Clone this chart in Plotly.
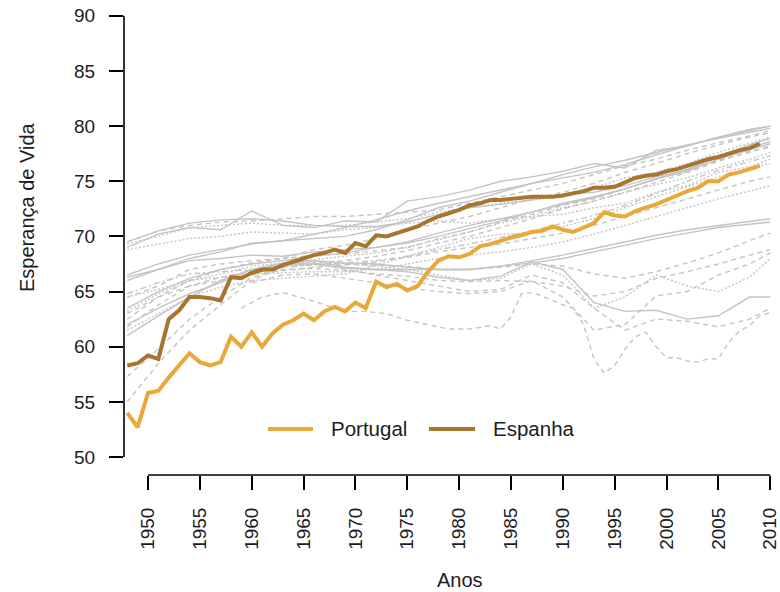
import plotly.graph_objects as go

# Yearly life expectancy, Portugal and Spain
YEARS = list(range(1948, 2010))
PORTUGAL = [54.0, 52.7, 55.8, 56.0, 57.2, 58.3, 59.4, 58.6, 58.3, 58.6,
            60.9, 60.0, 61.3, 60.0, 61.2, 62.0, 62.4, 63.0, 62.4, 63.2,
            63.6, 63.2, 64.0, 63.5, 65.9, 65.4, 65.7, 65.1, 65.5, 66.8,
            67.8, 68.2, 68.1, 68.4, 69.1, 69.3, 69.6, 69.9, 70.1, 70.4,
            70.5, 70.9, 70.6, 70.4, 70.8, 71.2, 72.2, 71.9, 71.8, 72.3,
            72.6, 72.9, 73.3, 73.7, 74.1, 74.4, 75.0, 75.0, 75.6, 75.8,
            76.1, 76.4]
ESPANHA = [58.3, 58.5, 59.2, 58.9, 62.5, 63.3, 64.5, 64.5, 64.4, 64.2,
           66.3, 66.2, 66.7, 67.0, 67.0, 67.4, 67.7, 68.0, 68.3, 68.5,
           68.8, 68.5, 69.4, 69.1, 70.1, 70.0, 70.3, 70.6, 70.9, 71.4,
           71.8, 72.1, 72.4, 72.8, 73.0, 73.3, 73.3, 73.4, 73.5, 73.6,
           73.6, 73.6, 73.7, 73.9, 74.1, 74.4, 74.4, 74.5, 74.9, 75.3,
           75.5, 75.6, 75.9, 76.1, 76.4, 76.7, 77.0, 77.2, 77.5, 77.8,
           78.0, 78.4]

# Other countries, sampled every three years
YEARS_G = [1948, 1951, 1954, 1957, 1960, 1963, 1966, 1969, 1972, 1975, 1978,
           1981, 1984, 1987, 1990, 1993, 1996, 1999, 2002, 2005, 2008, 2010]
N = None
OTHERS = {
    "T1": ([69.3, 70.0, 70.8, 71.0, 71.2, 71.0, 71.0, 71.0, 71.3, 71.6, 72.2,
            72.6, 73.0, 73.3, 73.6, 74.4, 75.3, 75.8, 76.6, 77.6, 78.4, 79.0], "dot"),
    "T2": ([69.5, 70.5, 71.0, 71.3, 71.4, 71.6, 71.8, 71.8, 72.0, 72.2, 72.4,
            73.0, 73.6, 74.2, 74.8, 75.6, 76.4, 77.0, 77.8, 78.5, 79.1, 79.6], "dash"),
    "T3": ([69.5, 70.5, 71.2, 71.5, 71.6, 71.4, 71.0, 70.9, 70.9, 71.3, 72.0,
            72.6, 72.9, 73.3, 73.8, 74.0, 74.6, 75.4, 76.0, 77.2, 78.3, 78.9], "solid"),
    "T4": ([68.8, 69.3, 69.8, 70.0, 70.4, 70.3, 70.2, 70.6, 70.8, 71.2, 71.4,
            71.2, 71.6, 71.8, 72.0, 72.6, 73.0, 74.0, 74.6, 75.8, 76.3, 77.0], "dot"),
    "T5": ([69.0, 70.2, 70.8, 70.6, 72.3, 71.0, 70.8, 71.4, 71.3, 73.2, 73.6,
            74.2, 75.0, 75.4, 75.9, 76.6, 76.2, 77.8, 78.2, 79.0, 79.6, 80.0], "solid"),
    "U1": ([64.5, 65.2, 66.0, 66.3, 66.6, 66.7, 66.8, 66.8, 67.0, 67.5, 68.0,
            68.3, 68.6, 69.0, 69.5, 70.2, 71.0, 71.8, 72.6, 73.4, 74.1, 74.6], "dot"),
    "U2": ([63.0, 64.5, 65.5, 66.0, 66.6, 66.9, 67.2, 67.4, 67.7, 68.1, 68.6,
            69.0, 69.3, 69.8, 70.3, 71.0, 71.8, 72.6, 73.4, 74.2, 75.0, 75.4], "dash"),
    "M1": ([63.5, 65.0, 66.2, 67.0, 67.5, 67.8, 68.2, 68.5, 69.0, 69.4, 70.0,
            70.7, 71.4, 72.2, 73.0, 73.6, 74.3, 75.2, 75.9, 77.0, 77.8, 78.4], "solid"),
    "M2": ([62.5, 64.5, 66.0, 67.0, 67.6, 68.0, 68.8, 69.2, 69.8, 70.6, 71.2,
            71.8, 72.6, 73.4, 74.0, 74.8, 75.8, 76.6, 77.5, 78.3, 79.0, 79.4], "dash"),
    "M3": ([66.3, 67.0, 67.8, 68.0, 68.3, 68.2, 68.6, 68.8, 69.0, 69.5, 70.3,
            71.0, 71.6, 72.2, 72.9, 73.5, 74.3, 75.2, 76.1, 77.2, 78.0, 78.6], "solid"),
    "M4": ([64.5, 65.5, 67.0, 67.5, 67.8, 68.0, 68.3, 68.4, 68.7, 69.0, 69.8,
            70.4, 71.3, 72.0, 72.8, 73.4, 74.3, 75.2, 76.0, 76.9, 77.6, 78.2], "dash"),
    "M5": ([63.2, 64.8, 66.0, 66.6, 67.3, 67.6, 67.9, 68.2, 68.5, 69.0, 69.7,
            70.4, 71.2, 71.8, 72.6, 73.2, 74.0, 74.7, 75.3, 76.2, 77.0, 77.6], "dot"),
    "M6": ([66.0, 67.0, 68.0, 68.6, 69.4, 69.6, 70.2, 70.8, 71.5, 72.3, 73.0,
            73.6, 74.2, 74.8, 75.3, 75.8, 76.5, 77.4, 78.2, 79.0, 79.7, 80.0], "solid"),
    "M7": ([61.8, 63.8, 65.5, 66.3, 66.8, 67.4, 67.6, 67.8, 68.2, 68.7, 69.4,
            70.0, 70.8, 71.6, 72.5, 73.2, 74.0, 74.9, 75.8, 76.8, 77.7, 78.1], "dash"),
    "M8": ([61.5, 63.0, 64.5, 65.4, 66.0, 66.2, 66.4, 66.6, 67.4, 68.2, 69.0,
            69.8, 70.2, 70.3, 70.9, 71.6, 72.6, 73.6, 74.5, 75.4, 76.2, 76.6], "dot"),
    "M9": ([64.8, 65.8, 66.6, 66.8, 67.0, 67.2, 67.4, 67.6, 67.8, 68.2, 68.8,
            69.3, 69.9, 70.5, 71.2, 71.9, 72.8, 73.9, 75.0, 76.0, 76.8, 77.3], "dashdot"),
    "M10": ([66.5, 67.5, 68.3, 68.8, 69.3, 69.6, 69.8, 70.0, 70.6, 71.5, 72.6,
             73.2, 74.0, 74.8, 75.6, 76.3, 76.9, 77.6, 78.3, 78.9, 79.4, 79.8], "solid"),
    "L1": ([55.0, 58.5, 61.5, 63.8, 66.0, 67.2, 67.5, 67.5, 67.4, 67.3, 67.0,
            67.0, 67.2, 67.5, 67.3, 66.6, 66.2, 66.8, 67.6, 68.5, 69.6, 70.3], "dash"),
    "L2": ([57.3, 59.8, 62.5, 64.5, 66.3, 67.0, 67.1, 66.9, 66.6, 66.4, 66.0,
            65.9, 66.0, 65.9, 65.5, 64.6, 65.0, 66.2, 66.8, 67.5, 68.3, 68.8], "dash"),
    "L3": ([62.0, 63.5, 64.8, 65.8, 67.0, 67.4, 67.5, 67.1, 67.0, 67.0, 67.0,
            67.0, 67.3, 67.6, 68.0, 68.6, 69.2, 69.8, 70.3, 70.8, 71.1, 71.3], "solid"),
    "L4": ([61.0, 62.8, 64.5, 66.0, 67.0, 67.6, 67.8, 67.6, 67.5, 67.2, 67.0,
            67.0, 67.3, 67.8, 68.3, 68.9, 69.5, 70.1, 70.6, 71.0, 71.4, 71.6], "solid"),
    "E1": ([N, N, N, N, 66.5, 67.5, 67.8, 67.2, 67.0, 66.8, 66.3,
            66.0, 66.4, 67.7, 67.0, 64.0, 63.2, 63.3, 62.5, 62.8, 64.5, 64.5], "solid"),
    "E2": ([N, N, N, N, 67.0, 67.5, 67.6, 67.0, 66.5, 66.0, 65.5,
            65.0, 65.2, 66.5, 65.8, 63.5, 61.5, 62.5, 62.3, 61.8, 62.5, 63.5], "dash"),
    "E3": ([N, N, N, N, 65.8, 66.5, 66.6, 66.2, 65.8, 65.3, 65.0,
            64.8, 65.0, 66.0, 64.5, 61.5, 62.0, 64.6, 65.0, 66.5, 67.5, 68.5], "dash"),
    "E4": ([N, N, N, N, 66.5, 67.5, 67.8, 67.5, 67.3, 67.0, 66.5,
            66.0, 66.2, 67.5, 66.5, 63.5, 64.5, 66.5, 65.5, 65.0, 66.3, 68.0], "dot"),
}

# Russia, from 1959 (mortality crisis of the 1990s)
YEARS_RU = [1959, 1961, 1963, 1965, 1967, 1969, 1971, 1973, 1975, 1977, 1979,
            1981, 1983, 1984, 1985, 1986, 1987, 1988, 1989, 1990, 1991, 1992,
            1993, 1994, 1995, 1996, 1997, 1998, 1999, 2000, 2001, 2002, 2003,
            2004, 2005, 2006, 2007, 2008, 2009, 2010]
RUSSIA = [63.5, 64.5, 64.9, 64.4, 63.8, 63.2, 63.2, 63.0, 62.4, 62.0, 61.6,
          61.6, 61.9, 61.6, 62.7, 64.8, 64.9, 64.6, 64.2, 63.8, 63.5, 62.0,
          58.9, 57.6, 58.3, 59.8, 60.9, 61.3, 60.0, 59.0, 59.0, 58.7, 58.6,
          58.9, 58.9, 60.4, 61.4, 61.9, 62.8, 63.1]

X_TICKS = list(range(1950, 2011, 5))
Y_TICKS = list(range(50, 91, 5))

GREY = "#c4c4c4"
DASHES = {"solid": "solid", "dash": "5px,4px", "dot": "2px,2px", "dashdot": "6px,3px,2px,3px"}
FONT = "Liberation Sans, Arial, Helvetica, sans-serif"
TXT = "#1c1c24"
C_PT = "#e8a83a"
C_ES = "#a8752f"

fig = go.Figure()

for name, (vals, style) in OTHERS.items():
    fig.add_trace(go.Scatter(
        x=YEARS_G, y=vals, mode="lines", name=name, showlegend=False,
        line=dict(color=GREY, width=1.4, dash=DASHES[style]),
        hoverinfo="skip"))

fig.add_trace(go.Scatter(
    x=YEARS_RU, y=RUSSIA, mode="lines", name="RU", showlegend=False,
    line=dict(color=GREY, width=1.4, dash=DASHES["dash"]), hoverinfo="skip"))

fig.add_trace(go.Scatter(
    x=YEARS, y=PORTUGAL, mode="lines", name="Portugal", showlegend=False,
    line=dict(color=C_PT, width=4)))
fig.add_trace(go.Scatter(
    x=YEARS, y=ESPANHA, mode="lines", name="Espanha", showlegend=False,
    line=dict(color=C_ES, width=4)))

# R-style axis lines spanning only the tick range
fig.add_shape(type="line", xref="x", yref="paper", x0=X_TICKS[0], x1=X_TICKS[-1],
              y0=0, y1=0, line=dict(color="black", width=1.6))
fig.add_shape(type="line", xref="paper", yref="y", x0=0, x1=0,
              y0=Y_TICKS[0], y1=Y_TICKS[-1], line=dict(color="black", width=1.6))

# Horizontal key inside the plot area
KEY_Y = 0.097
for (x0, x1, tx, label, col) in [(0.2212, 0.2903, 0.3149, "Portugal", C_PT),
                                 (0.4685, 0.5392, 0.5637, "Espanha", C_ES)]:
    fig.add_shape(type="line", xref="paper", yref="paper", x0=x0, x1=x1,
                  y0=KEY_Y, y1=KEY_Y, line=dict(color=col, width=4))
    fig.add_annotation(text=label, xref="paper", yref="paper", x=tx, y=KEY_Y,
                       xanchor="left", yanchor="middle", showarrow=False,
                       font=dict(family=FONT, size=20.5, color=TXT))

fig.add_annotation(text="Esperança de Vida", xref="paper", yref="paper",
                   x=-0.150, y=0.565, textangle=-90, showarrow=False,
                   xanchor="center", yanchor="middle",
                   font=dict(family=FONT, size=20, color=TXT))
fig.add_annotation(text="Anos", xref="paper", yref="paper",
                   x=0.516, y=-0.221, showarrow=False,
                   xanchor="center", yanchor="middle",
                   font=dict(family=FONT, size=20, color=TXT))

fig.update_layout(
    width=780, height=592,
    margin=dict(l=124, r=5, t=0, b=117),
    paper_bgcolor="white", plot_bgcolor="white",
    font=dict(family=FONT, size=19, color=TXT),
    showlegend=False,
    xaxis=dict(range=[1947.686, 2010.46], tickmode="array", tickvals=X_TICKS,
               ticktext=[str(v) for v in X_TICKS], tickangle=-90,
               ticks="outside", ticklen=14, tickwidth=1.6, tickcolor="black",
               ticklabelstandoff=10, ticklabeloverflow="allow",
               showgrid=False, zeroline=False, showline=False),
    yaxis=dict(range=[48.368, 91.43], tickmode="array", tickvals=Y_TICKS,
               ticktext=[str(v) for v in Y_TICKS],
               ticks="outside", ticklen=14, tickwidth=1.6, tickcolor="black",
               ticklabelstandoff=10, showgrid=False, zeroline=False, showline=False),
)

fig.write_html("out.html")
